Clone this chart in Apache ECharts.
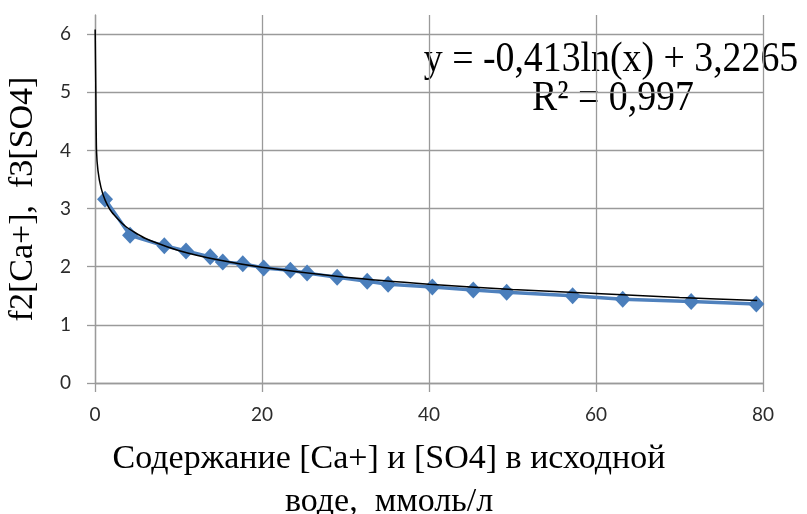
<!DOCTYPE html>
<html>
<head>
<meta charset="utf-8">
<script src="https://cdn.jsdelivr.net/npm/echarts@6/dist/echarts.min.js"></script>
<style>
	html, body { margin: 0; padding: 0; background: #fff; }
	#main { width: 807px; height: 514px; }
</style>
</head>
<body>
<div id="main"></div>
<script>
// измеренные точки
var pointsX = [1.2, 4.2, 8.3, 10.9, 13.8, 15.3, 17.7, 20.2, 23.4, 25.4, 29.0, 32.6, 35.1, 40.4, 45.3, 49.3, 57.2, 63.2, 71.4, 79.2];
var pointsY = [3.16, 2.54, 2.36, 2.27, 2.17, 2.08, 2.05, 1.98, 1.94, 1.89, 1.82, 1.75, 1.70, 1.65, 1.60, 1.56, 1.50, 1.44, 1.40, 1.36];

// линия тренда
var trendX = [0.02, 0.1, 0.18, 0.36, 0.72, 1.2, 2.0, 3.6, 6, 10, 15, 20, 30, 40, 50, 60, 70, 79.3];
var trendY = [6.08, 5.0, 4.0, 3.65, 3.36, 3.15, 2.94, 2.70, 2.49, 2.28, 2.11, 1.99, 1.82, 1.70, 1.61, 1.54, 1.47, 1.42];

var yTicks = [0, 1, 2, 3, 4, 5, 6];

var eqText = 'y = -0,413ln(x) + 3,2265';
var r2Text = 'R² = 0,997';

function pairs(xs, ys) {
	return xs.map(function(x, i) {
		return [x, ys[i]];
	});
}

var myChart = echarts.init(document.getElementById('main'));
var gridColor = '#9a9a9a';
var serif = '"Liberation Serif", "Times New Roman", serif';
var labelFont = 'Lato, "Liberation Sans", sans-serif';

var option = {
	animation: false,
	grid: {
		left: 95,
		right: 44,
		top: 15,
		bottom: 131,
		containLabel: false,
		outerBoundsMode: 'none'
	},
	xAxis: {
		type: 'value',
		min: 0,
		max: 80,
		interval: 20,
		name: 'Содержание [Ca+] и [SO4] в исходной\nводе,  ммоль/л',
		nameLocation: 'middle',
		nameGap: 55,
		nameTextStyle: {
			fontFamily: serif,
			fontSize: 34,
			lineHeight: 43,
			color: '#000',
			padding: [0, 80, 0, 0]
		},
		axisLine: { lineStyle: { color: gridColor, width: 1.3 } },
		axisTick: { show: true, length: 9, lineStyle: { color: gridColor, width: 1.3 } },
		axisLabel: {
			margin: 22,
			fontFamily: labelFont,
			fontSize: 19,
			color: '#2b2b2b'
		},
		splitLine: { show: true, lineStyle: { color: gridColor, width: 1.3 } }
	},
	yAxis: {
		type: 'value',
		min: 0,
		max: 6.33,
		name: 'f2[Ca+],  f3[SO4]',
		nameLocation: 'middle',
		nameGap: 55,
		nameTextStyle: {
			fontFamily: serif,
			fontSize: 34,
			color: '#000'
		},
		axisLine: { show: true, lineStyle: { color: gridColor, width: 1.3 } },
		axisTick: { show: true, length: 8, customValues: yTicks, lineStyle: { color: gridColor, width: 1.3 } },
		axisLabel: {
			customValues: yTicks,
			margin: 24,
			fontFamily: labelFont,
			fontSize: 19,
			color: '#2b2b2b'
		},
		splitLine: { show: true, lineStyle: { color: gridColor, width: 1.3 } }
	},
	graphic: [{
		type: 'text',
		x: 611,
		y: 60,
		scaleX: 0.9,
		style: {
			text: eqText,
			font: '42px ' + serif,
			fill: '#000',
			align: 'center',
			verticalAlign: 'middle',
			textAlign: 'center',
			textVerticalAlign: 'middle'
		}
	}, {
		type: 'text',
		x: 613,
		y: 99,
		scaleX: 0.9,
		style: {
			text: r2Text,
			font: '42px ' + serif,
			fill: '#000',
			align: 'center',
			verticalAlign: 'middle',
			textAlign: 'center',
			textVerticalAlign: 'middle'
		}
	}],
	series: [{
		name: 'data',
		type: 'line',
		data: pairs(pointsX, pointsY),
		symbol: 'diamond',
		symbolSize: [16, 17],
		itemStyle: { color: '#4a7ebb' },
		lineStyle: { color: '#4f81bd', width: 3.5 },
		z: 2
	}, {
		name: 'trend',
		type: 'line',
		data: pairs(trendX, trendY),
		showSymbol: false,
		symbol: 'none',
		smooth: 0.2,
		lineStyle: { color: '#000', width: 1.5 },
		z: 3
	}]
};
myChart.setOption(option);
</script>
</body>
</html>
